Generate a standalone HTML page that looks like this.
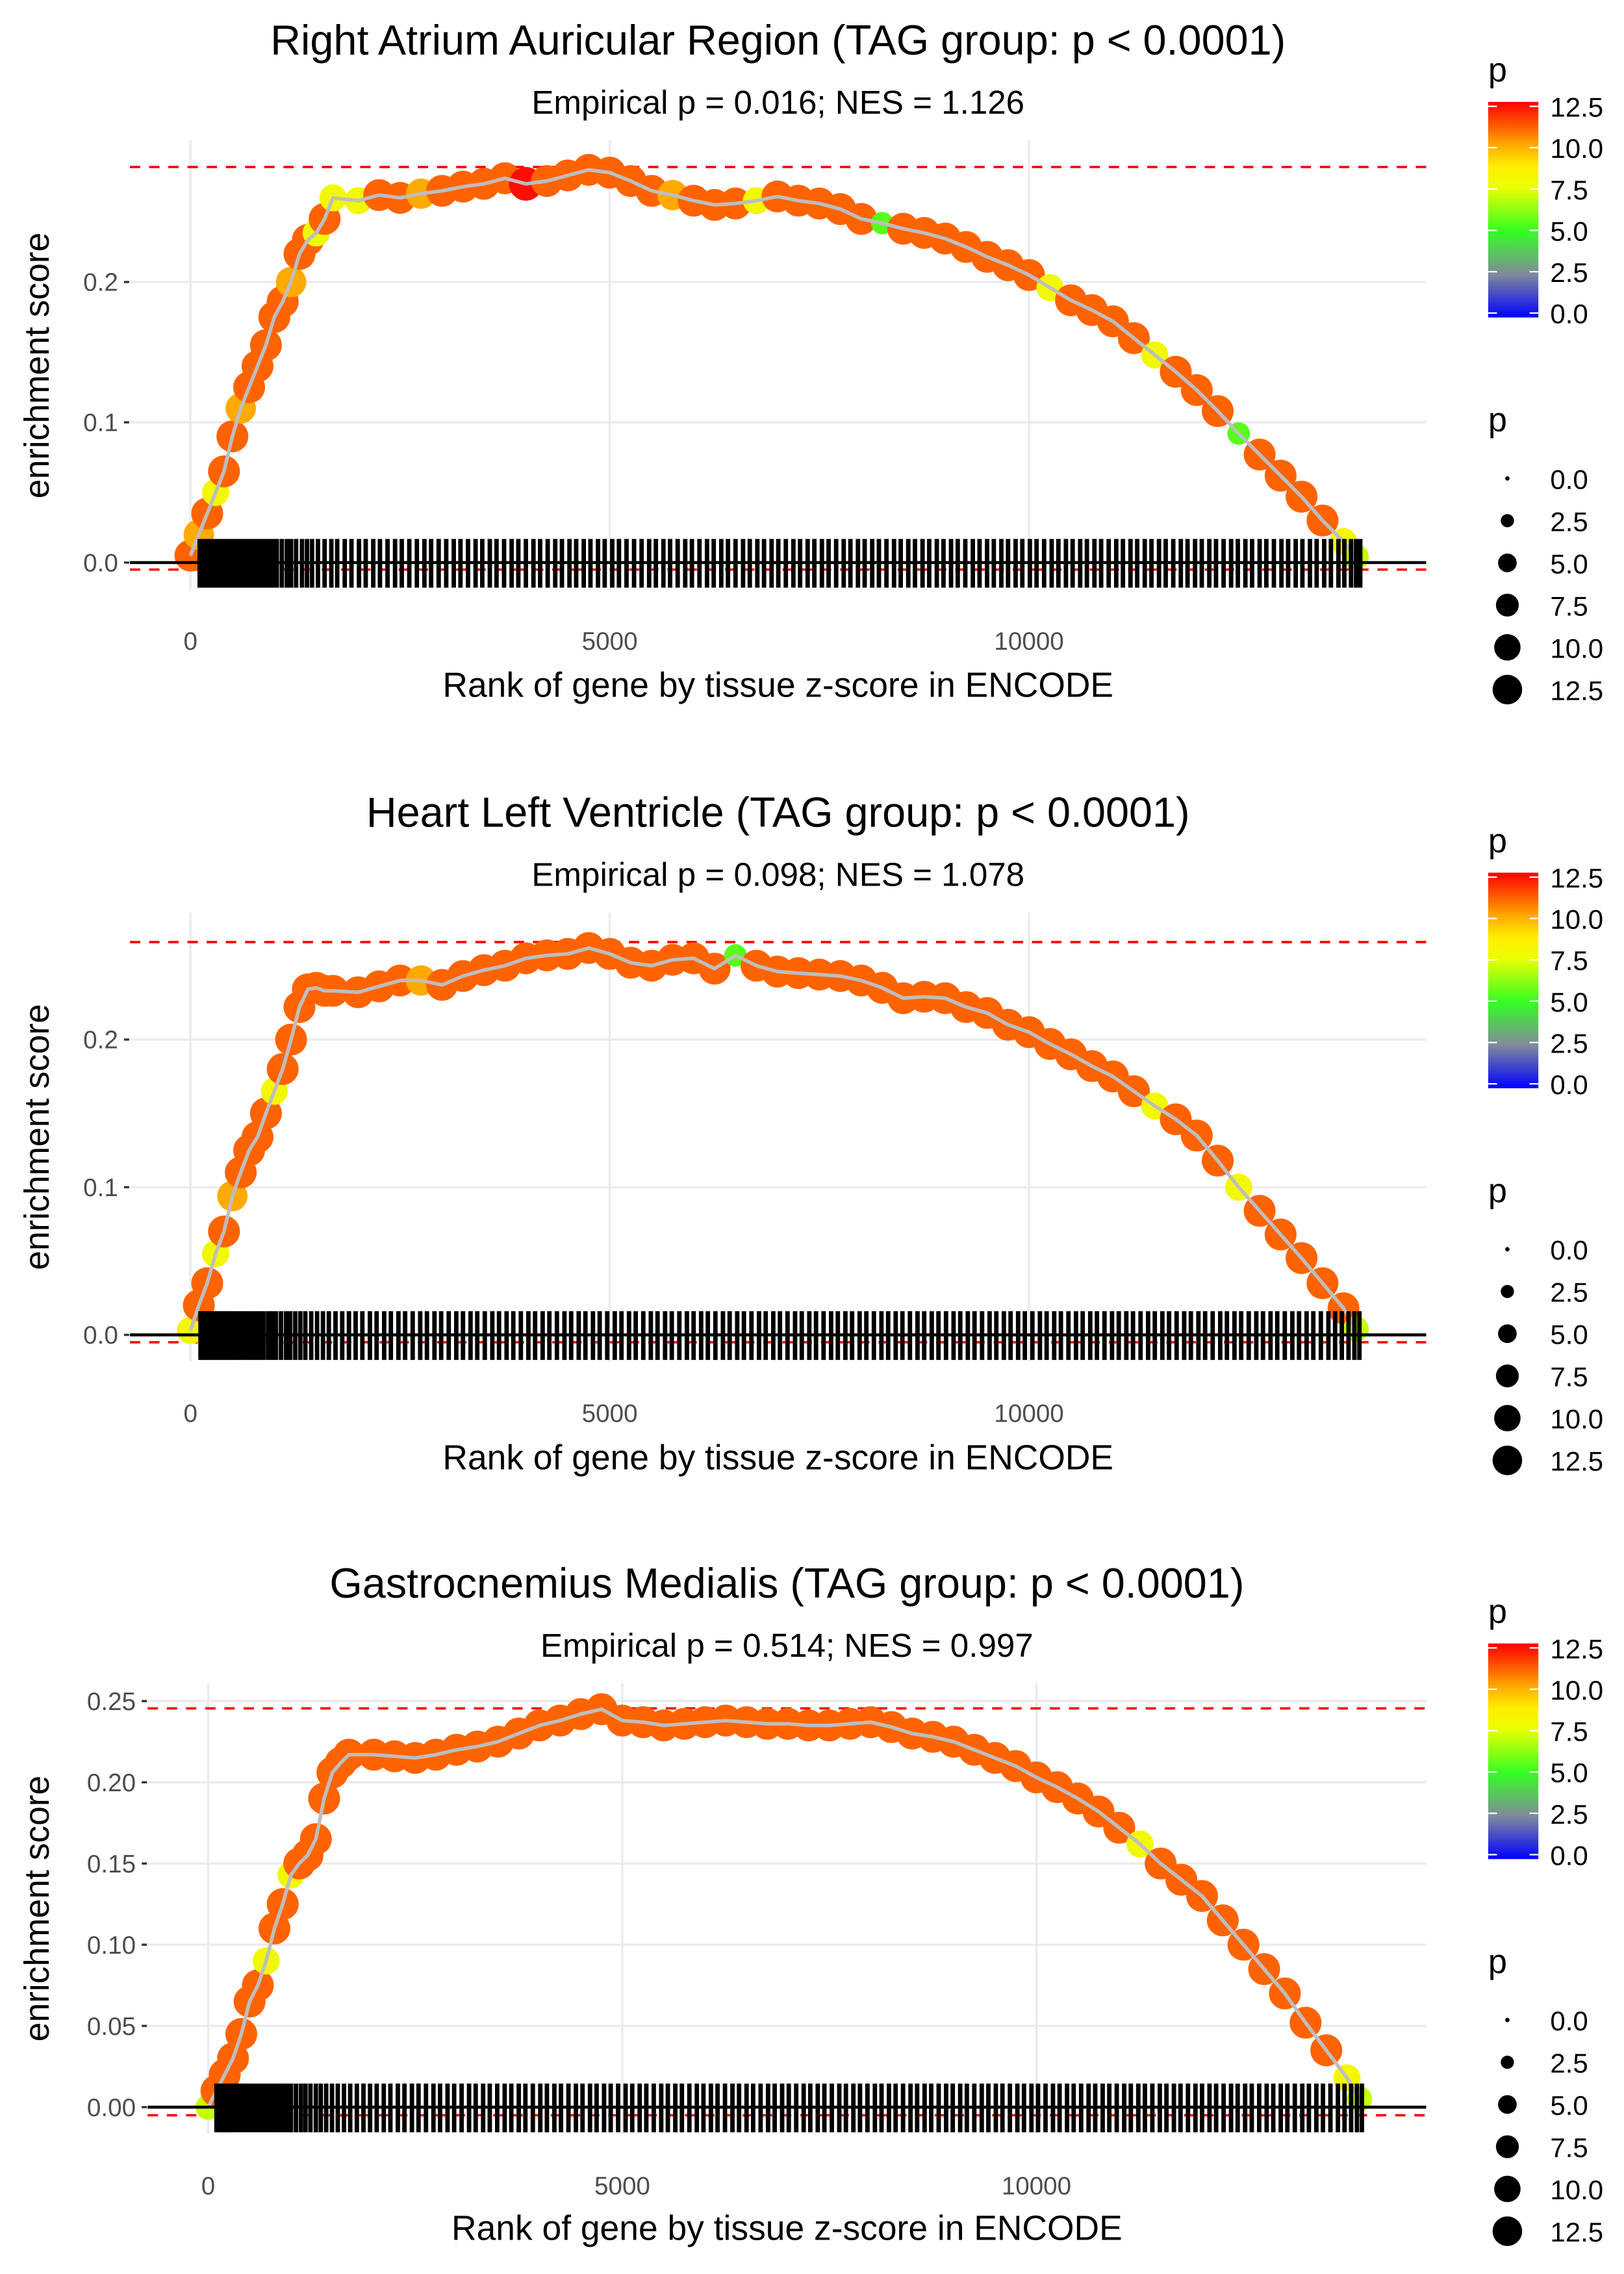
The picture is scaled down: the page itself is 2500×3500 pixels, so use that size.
<!DOCTYPE html>
<html><head><meta charset="utf-8"><style>
html,body{margin:0;padding:0;background:#fff;}
svg{display:block;font-family:"Liberation Sans",sans-serif;}
</style></head><body>
<svg id="root" width="2500" height="3500" viewBox="0 0 1100 1540" preserveAspectRatio="none" xmlns="http://www.w3.org/2000/svg"></svg>
<script>
const ranks = [0,100,200,300,400,500,600,700,800,900,1000,1100,1200,1300,1400,1500,1600,1700,2000,2250,2500,2750,3000,3250,3500,3750,4000,4250,4500,4750,5000,5250,5500,5750,6000,6250,6500,6750,7000,7250,7500,7750,8000,8250,8500,8750,9000,9250,9500,9750,10000,10250,10500,10750,11000,11250,11500,11750,12000,12250,12500,12750,13000,13250,13500,13750,13900];
const es1 = [0.005,0.02,0.035,0.05,0.065,0.09,0.11,0.125,0.14,0.155,0.175,0.186,0.2,0.22,0.23,0.235,0.245,0.26,
 0.258,0.262,0.26,0.263,0.265,0.268,0.27,0.274,0.27,0.272,0.276,0.28,0.278,0.272,0.265,0.262,0.258,0.255,0.256,0.258,0.261,0.258,0.256,0.252,0.245,0.242,0.238,0.235,0.231,0.225,0.218,0.212,0.205,0.196,0.187,0.18,0.172,0.16,0.148,0.136,0.123,0.108,0.092,0.077,0.062,0.047,0.03,0.015,0.004];
const es2 = [0.003,0.02,0.035,0.055,0.07,0.094,0.11,0.125,0.134,0.15,0.165,0.18,0.2,0.222,0.234,0.235,0.233,0.233,
 0.232,0.236,0.24,0.24,0.237,0.243,0.247,0.25,0.255,0.257,0.258,0.262,0.258,0.252,0.25,0.254,0.255,0.248,0.257,0.25,0.246,0.245,0.244,0.243,0.24,0.235,0.228,0.229,0.228,0.222,0.218,0.21,0.205,0.197,0.19,0.182,0.175,0.165,0.155,0.146,0.135,0.118,0.1,0.084,0.068,0.052,0.035,0.018,0.004];
const es3 = [0.0,0.01,0.02,0.03,0.045,0.065,0.075,0.09,0.11,0.125,0.143,0.15,0.155,0.165,0.19,0.206,0.212,0.217,
 0.217,0.216,0.215,0.217,0.22,0.222,0.225,0.23,0.235,0.238,0.242,0.245,0.238,0.237,0.235,0.236,0.237,0.238,0.237,0.236,0.236,0.235,0.235,0.236,0.237,0.234,0.23,0.228,0.225,0.22,0.215,0.21,0.203,0.197,0.19,0.182,0.172,0.162,0.15,0.14,0.13,0.115,0.1,0.085,0.07,0.052,0.035,0.018,0.005];
const p1 = [11,10,11,8,11,11,10,11,11,11,11,11,10,11,11,8,11,8,
 8,11,11,10,11,11,11,11,12.3,11,11,11,11,11,11,10,11,11,11,8,11,11,11,11,11,5.5,11,11,11,11,11,11,11,8,11,11,11,11,8,11,11,11,5.5,11,11,11,11,8,7];
const p2 = [8,11,11,8,11,10,11,11,11,11,8,11,11,11,11,11,11,11,
 11,11,11,10,11,11,11,11,11,11,11,11,11,11,11,11,11,11,5.5,11,11,11,11,11,11,11,11,11,11,11,11,11,11,11,11,11,11,11,8,11,11,11,8,11,11,11,11,11,7];
const p3 = [7,11,11,11,11,11,11,8,11,11,8,11,11,11,11,11,11,11,
 11,11,11,11,11,11,11,11,11,11,11,11,11,11,11,11,11,11,11,11,11,11,11,11,11,11,11,11,11,11,11,11,11,11,11,11,11,8,11,11,11,11,11,11,11,11,11,8,7];
const hits1 = [110,140,170,200,230,260,290,330,370,400,440,480,520,560,610,650,700,740,790,830,880,930,980,1030,1090,1150,1200,1260,1330,1390,1450,1520,1600,1680,1750,1840,1920,2010,2090,2180,2260,2350,2440,2520,2610,2700,2790,2870,2960,3050,3140,3220,3310,3400,3480,3570,3650,3740,3830,3910,4000,4090,4170,4260,4350,4430,4520,4600,4690,4770,4860,4940,5030,5110,5200,5290,5380,5470,5550,5640,5720,5810,5900,5980,6070,6160,6240,6330,6410,6500,6590,6670,6760,6840,6930,7010,7100,7190,7270,7360,7440,7530,7610,7700,7790,7870,7960,8040,8130,8210,8300,8390,8470,8560,8640,8730,8810,8900,8980,9070,9150,9240,9330,9410,9500,9580,9670,9750,9840,9920,10010,10090,10180,10270,10350,10440,10520,10610,10690,10780,10860,10950,11040,11120,11210,11290,11380,11460,11550,11630,11720,11810,11890,11980,12060,12150,12230,12320,12410,12490,12580,12660,12750,12830,12920,13010,13090,13180,13260,13350,13430,13520,13600,13690,13760,13840,13900,13950];
const hits2 = [120,150,185,215,250,290,320,360,395,430,470,510,555,600,640,690,735,780,830,870,925,970,1020,1080,1140,1190,1250,1310,1370,1440,1510,1580,1650,1730,1810,1890,1970,2050,2140,2220,2310,2390,2480,2560,2650,2740,2820,2910,2990,3080,3170,3250,3340,3420,3510,3600,3680,3770,3850,3940,4030,4110,4200,4280,4370,4460,4540,4630,4710,4800,4880,4970,5060,5140,5230,5310,5400,5490,5570,5660,5740,5830,5920,6000,6090,6170,6260,6350,6430,6520,6600,6690,6780,6860,6950,7030,7120,7210,7290,7380,7460,7550,7640,7720,7810,7890,7980,8060,8150,8240,8320,8410,8490,8580,8670,8750,8840,8920,9010,9100,9180,9270,9350,9440,9530,9610,9700,9780,9870,9950,10040,10130,10210,10300,10380,10470,10560,10640,10730,10810,10900,10990,11070,11160,11240,11330,11420,11500,11590,11670,11760,11850,11930,12020,12100,12190,12280,12360,12450,12530,12620,12710,12790,12880,12960,13050,13140,13220,13310,13390,13480,13570,13650,13730,13810,13880,13940];
const hits3 = [100,135,165,195,230,265,300,340,375,410,450,495,535,580,625,670,715,760,810,855,905,950,1000,1060,1120,1175,1235,1300,1360,1425,1495,1565,1640,1715,1795,1875,1955,2035,2120,2200,2290,2370,2460,2540,2630,2720,2800,2890,2970,3060,3150,3230,3320,3400,3490,3580,3660,3750,3830,3920,4010,4090,4180,4260,4350,4440,4520,4610,4690,4780,4860,4950,5040,5120,5210,5290,5380,5470,5550,5640,5720,5810,5900,5980,6070,6150,6240,6330,6410,6500,6580,6670,6760,6840,6930,7010,7100,7190,7270,7360,7440,7530,7620,7700,7790,7870,7960,8050,8130,8220,8300,8390,8480,8560,8650,8730,8820,8910,8990,9080,9160,9250,9340,9420,9510,9590,9680,9770,9850,9940,10020,10110,10200,10280,10370,10450,10540,10630,10710,10800,10880,10970,11060,11140,11230,11310,11400,11490,11570,11660,11740,11830,11920,12000,12090,12170,12260,12350,12430,12520,12600,12690,12780,12860,12950,13030,13120,13210,13290,13380,13460,13550,13640,13720,13800,13870,13930];
const titles = ["Right Atrium Auricular Region (TAG group: p < 0.0001)","Heart Left Ventricle (TAG group: p < 0.0001)","Gastrocnemius Medialis (TAG group: p < 0.0001)"];
const subtitles = ["Empirical p = 0.016; NES = 1.126","Empirical p = 0.098; NES = 1.078","Empirical p = 0.514; NES = 0.997"];
const esMax = [0.282,0.266,0.2455];
const esMin = [-0.005,-0.005,-0.005];
const yTicks1 = [0,0.1,0.2], yLabels1 = ["0.0","0.1","0.2"];
const yTicks3 = [0,0.05,0.1,0.15,0.2,0.25], yLabels3 = ["0.00","0.05","0.10","0.15","0.20","0.25"];
const xTicks = [0,5000,10000], xLabels = ["0","5000","10000"];
const legendVals = [12.5,10,7.5,5,2.5,0], legendLabels = ["12.5","10.0","7.5","5.0","2.5","0.0"];
const sizeVals = [0,2.5,5,7.5,10,12.5], sizeLabels = ["0.0","2.5","5.0","7.5","10.0","12.5"];

const NS="http://www.w3.org/2000/svg";
const root=document.getElementById('root');
function mk(tag,attrs,parent){const e=document.createElementNS(NS,tag);for(const k in attrs)e.setAttribute(k,attrs[k]);(parent||root).appendChild(e);return e;}
function txt(s,attrs,parent){const e=mk('text',attrs,parent);e.textContent=s;return e;}
const stops=[[0,[0,0,255]],[2.5,[128,138,154]],[5,[51,255,34]],[7.5,[234,255,0]],[8.75,[255,238,0]],[10,[255,170,0]],[11.2,[255,85,0]],[12.5,[255,0,0]]];
function pColor(p){for(let i=1;i<stops.length;i++){if(p<=stops[i][0]){const a=stops[i-1],b=stops[i];const t=(p-a[0])/(b[0]-a[0]);const c=a[1].map((v,j)=>Math.round(v+(b[1][j]-v)*t));return `rgb(${c})`;}}return 'rgb(255,0,0)';}
function pRadius(p){return Math.max(1.5,Math.sqrt(p/12.5)*10);}
function plotRadius(p){return Math.max(2,Math.sqrt(p/12.5)*11.5);}

const panels=[
 {es:es1,p:p1,hits:hits1,x0:129,xs:284/5000,y0:381,ys:950,left:88,right:966,top:95,bot:400,yt:yTicks1,yl:yLabels1,ty:27,sy:69,lx:434,at:464,cx:527,leg:48},
 {es:es2,p:p2,hits:hits2,x0:129,xs:284/5000,y0:904,ys:1000,left:88,right:966,top:618,bot:922,yt:yTicks1,yl:yLabels1,ty:550,sy:592,lx:957,at:987,cx:527,leg:570},
 {es:es3,p:p3,hits:hits3,x0:141,xs:280.5/5000,y0:1427,ys:1100,left:100,right:966,top:1140,bot:1445,yt:yTicks3,yl:yLabels3,ty:1072,sy:1114,lx:1480,at:1509,cx:533,leg:1092}
];

panels.forEach((P,k)=>{
 const g=mk('g',{});
 
 
 const X=r=>P.x0+r*P.xs, Y=v=>P.y0-v*P.ys;
 P.yt.forEach(v=>{const l=mk('line',{x1:P.left,x2:P.right,y1:Y(v),y2:Y(v),stroke:'#ebebeb','stroke-width':1.5},g);
   });
 xTicks.forEach(v=>{const l=mk('line',{x1:X(v),x2:X(v),y1:P.top,y2:P.bot,stroke:'#ebebeb','stroke-width':1.5},g);
   });
 [esMax[k],esMin[k]].forEach((v,i)=>{const l=mk('line',{x1:P.left,x2:P.right,y1:Y(v),y2:Y(v),stroke:'#ff0000','stroke-width':1.6,'stroke-dasharray':'7,6'},g);
   });
 P.es.forEach((v,i)=>{const c=mk('circle',{cx:X(ranks[i]),cy:Y(v),r:plotRadius(P.p[i]),fill:pColor(P.p[i])},g);
   });
 const pl=mk('polyline',{points:P.es.map((v,i)=>X(ranks[i])+','+Y(v)).join(' '),fill:'none',stroke:'#bebebe','stroke-width':2.4},g);
 
 P.hits.forEach(h=>{const l=mk('line',{x1:X(h),x2:X(h),y1:P.y0-16,y2:P.y0+17,stroke:'#000','stroke-width':3},g);
   });
 const z=mk('line',{x1:P.left,x2:P.right,y1:P.y0,y2:P.y0,stroke:'#000','stroke-width':2},g);
 
 P.yt.forEach((v,i)=>{const t=mk('line',{x1:P.left-4,x2:P.left-0.5,y1:Y(v),y2:Y(v),stroke:'#333','stroke-width':1.5},g);
   
   const tl=txt(P.yl[i],{x:P.left-8,y:Y(v)+6,'font-size':17,fill:'#4d4d4d','text-anchor':'end'},g);
   });
 xTicks.forEach((v,i)=>{const tl=txt(xLabels[i],{x:X(v),y:P.lx+6,'font-size':17,fill:'#4d4d4d','text-anchor':'middle'},g);
   });
 const ti=txt(titles[k],{x:P.cx,y:P.ty+10,'font-size':28.5,fill:'#000','text-anchor':'middle'},g);
 
 const st=txt(subtitles[k],{x:P.cx,y:P.sy+8,'font-size':22.5,fill:'#000','text-anchor':'middle'},g);
 
 const xa=txt('Rank of gene by tissue z-score in ENCODE',{x:P.cx,y:P.at+8,'font-size':23.5,fill:'#000','text-anchor':'middle'},g);
 
 const cyA=(P.top+P.bot)/2;
 const ya=txt('enrichment score',{x:0,y:0,'font-size':23.5,fill:'#000','text-anchor':'middle',transform:`translate(33,${cyA}) rotate(-90)`},g);
 
 const L=mk('g',{});
 
 const lt=txt('p',{x:1008,y:P.leg+7,'font-size':23,fill:'#000'},L);
 
 const gid='grad'+k;
 const defs=mk('defs',{},L);const lg=mk('linearGradient',{id:gid,x1:0,y1:1,x2:0,y2:0},defs);
 stops.forEach(s=>mk('stop',{offset:s[0]/12.5,'stop-color':pColor(s[0])},lg));
 const barTop=P.leg+24, barBot=P.leg+164, bs=(barBot-barTop)/12.5;
 const bar=mk('rect',{x:1008,y:barTop-3,width:34,height:barBot-barTop+6,fill:`url(#${gid})`},L);
 
 legendVals.forEach((v,i)=>{const yy=barBot-v*bs;
   mk('line',{x1:1008,x2:1014,y1:yy,y2:yy,stroke:'#fff','stroke-width':1},L);
   mk('line',{x1:1036,x2:1042,y1:yy,y2:yy,stroke:'#fff','stroke-width':1},L);
   const t=txt(legendLabels[i],{x:1050,y:yy+7,'font-size':18.5,fill:'#000'},L);
   });
 const S=mk('g',{});
 
 const sTop=P.leg+237;
 const s0=txt('p',{x:1008,y:sTop+7,'font-size':23,fill:'#000'},S);
 
 sizeVals.forEach((v,i)=>{const yy=sTop+39+i*28.6;
   const c=mk('circle',{cx:1021,cy:yy,r:pRadius(v),fill:'#000'},S);
   
   const t=txt(sizeLabels[i],{x:1050,y:yy+7,'font-size':18.5,fill:'#000'},S);
   });
});
</script>
</body></html>
